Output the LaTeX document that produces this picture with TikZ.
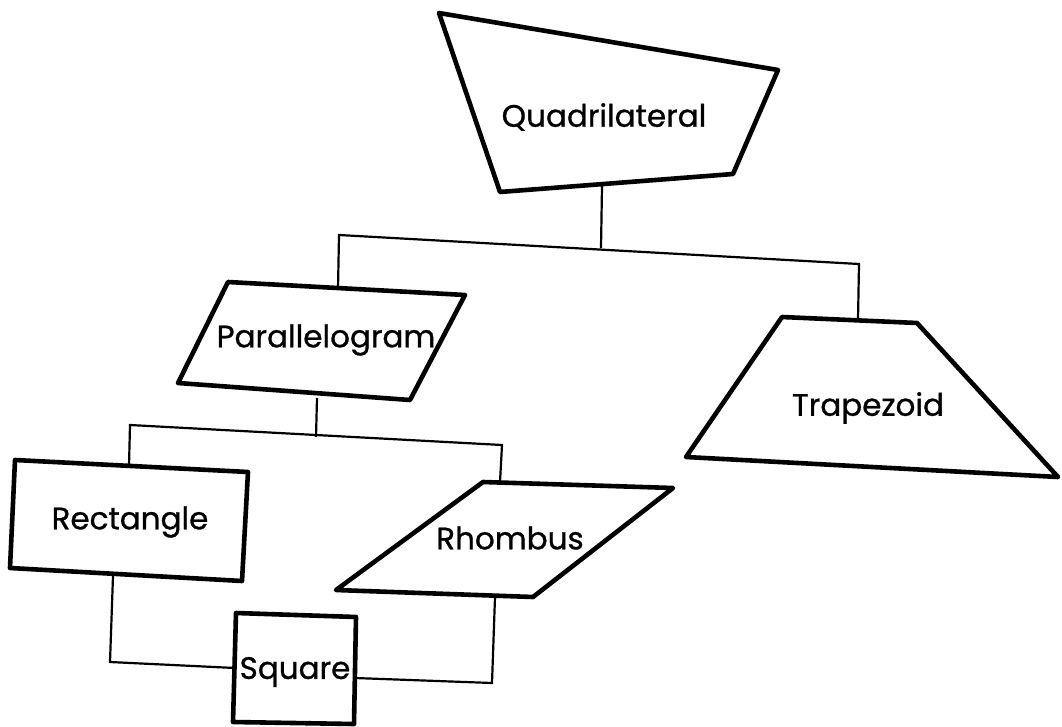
\documentclass[tikz,border=0pt]{standalone}
\usepackage{fontspec}
\setmainfont{Poppins}[FakeBold=0.9]
\begin{document}
\begin{tikzpicture}[x=1pt,y=-1pt,
  shapeline/.style={draw=black,line width=4.6pt,line join=round},
  link/.style={draw=black,line width=2.2pt},
  lbl/.style={font=\fontsize{31}{35}\selectfont,inner sep=0pt}]
\useasboundingbox (0,0) rectangle (1062,727);
% Quadrilateral
\coordinate (q1) at (439,13); \coordinate (q2) at (778,70);
\coordinate (q3) at (733,174); \coordinate (q4) at (500,192);
\draw[shapeline] (q1) -- (q2) -- (q3) -- (q4) -- cycle;
\node[lbl] (quad) at (604,117) {Quadrilateral};
% Parallelogram
\coordinate (p1) at (228,282); \coordinate (p2) at (465,295);
\coordinate (p3) at (410,400); \coordinate (p4) at (178,383);
\draw[shapeline] (p1) -- (p2) -- (p3) -- (p4) -- cycle;
\node[lbl] (para) at (326,340) {Parallelogram};
% Trapezoid
\coordinate (t1) at (782,317); \coordinate (t2) at (917,323);
\coordinate (t3) at (1058,477); \coordinate (t4) at (686,457);
\draw[shapeline] (t1) -- (t2) -- (t3) -- (t4) -- cycle;
\node[lbl] (trap) at (868,408) {Trapezoid};
% Rectangle
\coordinate (r1) at (15,460); \coordinate (r2) at (248,472);
\coordinate (r3) at (242,581); \coordinate (r4) at (10,568);
\draw[shapeline] (r1) -- (r2) -- (r3) -- (r4) -- cycle;
\node[lbl] (rect) at (130,522) {Rectangle};
% Rhombus
\coordinate (h1) at (483,482); \coordinate (h2) at (673,488);
\coordinate (h3) at (533,597); \coordinate (h4) at (336,590);
\draw[shapeline] (h1) -- (h2) -- (h3) -- (h4) -- cycle;
\node[lbl] (rhom) at (510,538) {Rhombus};
% Square
\coordinate (s1) at (236,613); \coordinate (s2) at (356,617);
\coordinate (s3) at (354,724); \coordinate (s4) at (233,722);
\draw[shapeline] (s1) -- (s2) -- (s3) -- (s4) -- cycle;
\node[lbl] (sq) at (295,672) {Square};
% connectors
\coordinate (qb) at (602,186);
\coordinate (j1) at (601,248);
\coordinate (jl) at (339,235);
\coordinate (jr) at (859,264);
\coordinate (pt) at (338,289);
\coordinate (tt) at (858,320);
\draw[link] (qb) -- (j1);
\draw[link] (pt) -- (jl) -- (jr) -- (tt);
\coordinate (pb) at (317,398);
\coordinate (j2) at (316,437);
\coordinate (kl) at (130,425);
\coordinate (kr) at (502,445);
\coordinate (rt) at (129,466);
\coordinate (ht) at (500,482);
\draw[link] (pb) -- (j2);
\draw[link] (rt) -- (kl) -- (kr) -- (ht);
\coordinate (rb) at (113,576);
\coordinate (ml) at (110,662);
\coordinate (sl) at (235,668);
\draw[link] (rb) -- (ml) -- (sl);
\coordinate (hb) at (495,597);
\coordinate (mr) at (492,683);
\coordinate (sr) at (355,678);
\draw[link] (hb) -- (mr) -- (sr);
\end{tikzpicture}
\end{document}
